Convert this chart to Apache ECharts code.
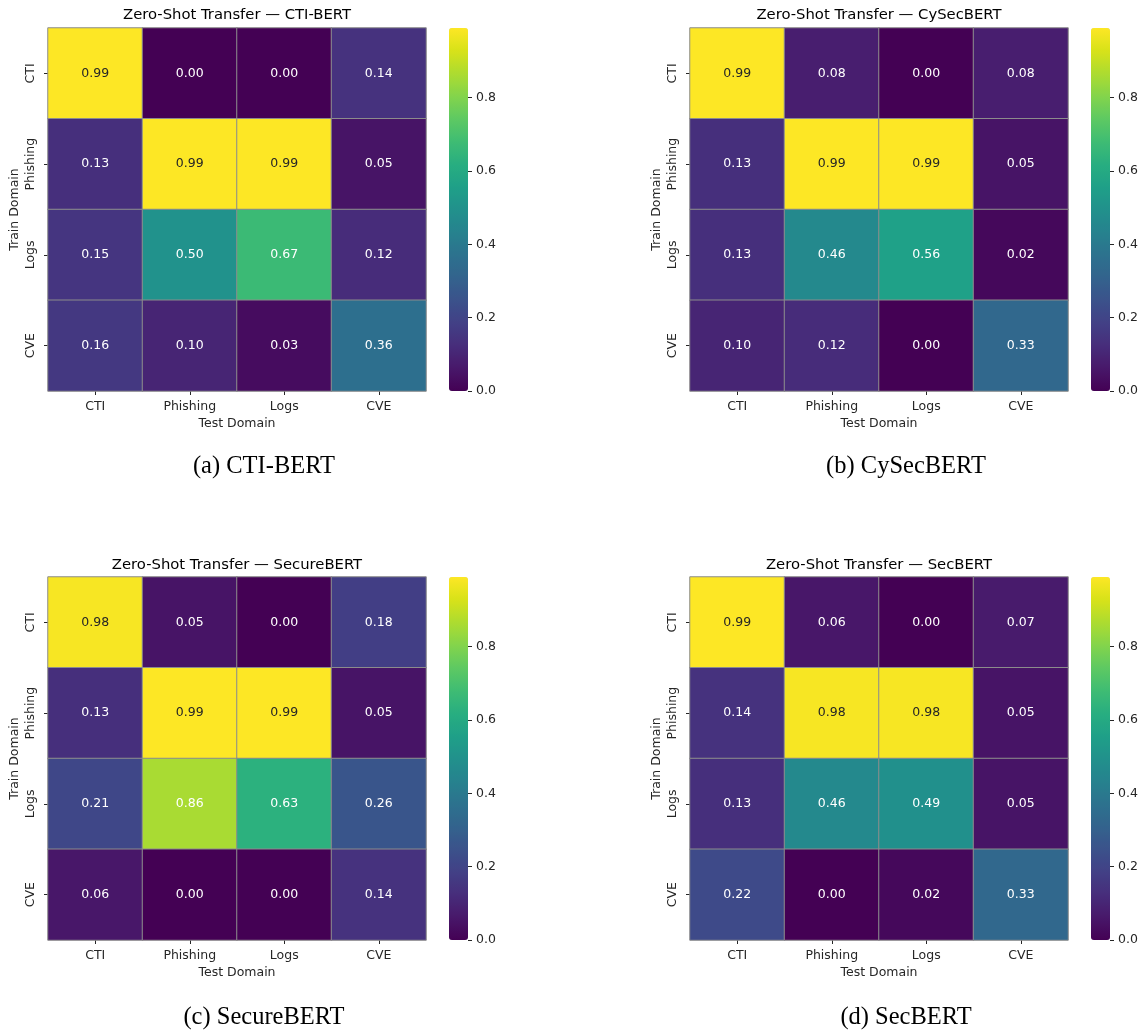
<!DOCTYPE html>
<html>
<head>
<meta charset="utf-8">
<script src="https://cdn.jsdelivr.net/npm/echarts@6/dist/echarts.min.js"></script>
<style>
  html, body { margin: 0; padding: 0; background: #ffffff; }
  #chart { width: 1147px; height: 1032px; }
</style>
</head>
<body>
<div id="chart"></div>
<script>
// Domains used both for training (rows) and testing (columns)
const domains = ['CTI', 'Phishing', 'Logs', 'CVE'];
const modelNames = ['CTI-BERT', 'CySecBERT', 'SecureBERT', 'SecBERT'];
const captionTags = ['(a)', '(b)', '(c)', '(d)'];

// Zero-shot transfer scores: one row per train domain, one column per test domain
const ctiBertScores = [
  [0.99, 0.00, 0.00, 0.14],
  [0.13, 0.99, 0.99, 0.05],
  [0.15, 0.50, 0.67, 0.12],
  [0.16, 0.10, 0.03, 0.36]
];
const cySecBertScores = [
  [0.99, 0.08, 0.00, 0.08],
  [0.13, 0.99, 0.99, 0.05],
  [0.13, 0.46, 0.56, 0.02],
  [0.10, 0.12, 0.00, 0.33]
];
const secureBertScores = [
  [0.98, 0.05, 0.00, 0.18],
  [0.13, 0.99, 0.99, 0.05],
  [0.21, 0.86, 0.63, 0.26],
  [0.06, 0.00, 0.00, 0.14]
];
const secBertScores = [
  [0.99, 0.06, 0.00, 0.07],
  [0.14, 0.98, 0.98, 0.05],
  [0.13, 0.46, 0.49, 0.05],
  [0.22, 0.00, 0.02, 0.33]
];
const colorbarTicks = [0.0, 0.2, 0.4, 0.6, 0.8];

const allScores = [ctiBertScores, cySecBertScores, secureBertScores, secBertScores];

// viridis colour ramp
const viridis = ['#440154', '#48186a', '#472d7b', '#424086', '#3b528b', '#33638d',
  '#2c728e', '#26828e', '#21918c', '#1fa088', '#28ae80', '#3fbc73', '#5ec962',
  '#84d44b', '#addc30', '#d8e219', '#fde725'];

// Panel geometry (pixels)
const panels = [
  { left: 48,  top: 28,  cbLeft: 449,  titleX: 237, titleY: 15,  capX: 264, capY: 467 },
  { left: 690, top: 28,  cbLeft: 1091, titleX: 879, titleY: 15,  capX: 906, capY: 467 },
  { left: 48,  top: 577, cbLeft: 449,  titleX: 237, titleY: 565, capX: 264, capY: 1018 },
  { left: 690, top: 577, cbLeft: 1091, titleX: 879, titleY: 565, capX: 906, capY: 1018 }
];
const mapW = 378, mapH = 363, cbW = 19;

const FONT = 'DejaVu Sans';
const FS = 12.5;
const INK = '#262626';

const grid = [], xAxis = [], yAxis = [], series = [], visualMap = [], graphic = [];

allScores.forEach((scores, i) => {
  const p = panels[i];
  const vmax = Math.max(...scores.flat());
  const vmin = Math.min(...scores.flat());

  // heatmap grid
  grid.push({ left: p.left, top: p.top, width: mapW, height: mapH, containLabel: false });
  xAxis.push({
    type: 'category', gridIndex: i, data: domains, position: 'bottom',
    axisLine: { show: false },
    axisTick: { show: true, alignWithLabel: true, length: 4, lineStyle: { color: INK } },
    axisLabel: { fontFamily: FONT, fontSize: FS, color: INK, margin: 9 },
    splitLine: { show: false },
    name: 'Test Domain', nameLocation: 'middle', nameGap: 26,
    nameTextStyle: { fontFamily: FONT, fontSize: FS, color: INK }
  });
  yAxis.push({
    type: 'category', gridIndex: i, data: domains, inverse: true,
    axisLine: { show: false },
    axisTick: { show: true, alignWithLabel: true, length: 4, lineStyle: { color: INK } },
    axisLabel: { fontFamily: FONT, fontSize: FS, color: INK, margin: 11, rotate: 90 },
    splitLine: { show: false },
    name: 'Train Domain', nameLocation: 'middle', nameGap: 27, nameRotate: 90,
    nameTextStyle: { fontFamily: FONT, fontSize: FS, color: INK }
  });

  const data = [];
  scores.forEach((row, r) => {
    row.forEach((v, c) => {
      data.push({
        value: [c, r, v],
        label: { color: v > 0.9 ? INK : '#ffffff' }
      });
    });
  });
  series.push({
    type: 'heatmap', xAxisIndex: i, yAxisIndex: i, data: data,
    label: {
      show: true, fontFamily: FONT, fontSize: FS,
      formatter: prm => prm.value[2].toFixed(2)
    },
    itemStyle: { borderColor: '#8c8c8c', borderWidth: 1 },
    emphasis: { disabled: true }
  });

  visualMap.push({
    type: 'continuous', seriesIndex: i, dimension: 2,
    min: vmin, max: vmax, calculable: false, hoverLink: false,
    orient: 'vertical', left: p.cbLeft, top: p.top,
    itemWidth: cbW, itemHeight: mapH, padding: 0, indicatorSize: 0,
    inRange: { color: viridis }
  });

  graphic.push({
    type: 'text', x: p.titleX, y: p.titleY,
    style: {
      text: 'Zero-Shot Transfer \u2014 ' + modelNames[i],
      font: '14.8px "DejaVu Sans"', fill: '#000000',
      align: 'center', verticalAlign: 'middle'
    }
  });
  graphic.push({
    type: 'text', x: p.capX, y: p.capY,
    style: {
      text: captionTags[i] + ' ' + modelNames[i],
      font: '24.5px "Liberation Serif"', fill: '#000000',
      align: 'center', verticalAlign: 'middle'
    }
  });
});

// colorbar tick axes, placed along the right edge of each colour bar
allScores.forEach((scores, i) => {
  const p = panels[i];
  const vmax = Math.max(...scores.flat());
  const vmin = Math.min(...scores.flat());
  const gi = grid.length;
  grid.push({ left: p.cbLeft, top: p.top, width: cbW, height: mapH, containLabel: false });
  xAxis.push({ type: 'value', gridIndex: gi, show: false, min: 0, max: 1 });
  yAxis.push({
    type: 'value', gridIndex: gi, position: 'right', min: vmin, max: vmax,
    axisLine: { show: false, onZero: false }, splitLine: { show: false },
    axisTick: { show: true, length: 4, customValues: colorbarTicks, lineStyle: { color: INK } },
    axisLabel: {
      customValues: colorbarTicks, fontFamily: FONT, fontSize: FS, color: INK, margin: 8,
      formatter: v => v.toFixed(1)
    }
  });
});

const chart = echarts.init(document.getElementById('chart'), null, { renderer: 'canvas' });
chart.setOption({
  animation: false,
  backgroundColor: '#ffffff',
  grid: grid, xAxis: xAxis, yAxis: yAxis,
  visualMap: visualMap, series: series, graphic: graphic
});
</script>
</body>
</html>
